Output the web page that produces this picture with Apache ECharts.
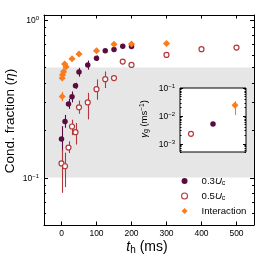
<!DOCTYPE html>
<html><head><meta charset="utf-8">
<script src="https://cdn.jsdelivr.net/npm/echarts@6/dist/echarts.min.js"></script>
<style>html,body{margin:0;padding:0;background:#fff}#c{width:260px;height:260px}</style>
</head><body><div id="c"></div>
<script>
// ---- data ----
const tPurple   = [0, 10, 20, 30, 40, 50, 75, 100, 125, 150, 175, 200];
const etaPurple = [0.176, 0.227, 0.293, 0.326, 0.382, 0.467, 0.519, 0.572, 0.637, 0.651, 0.682, 0.680];
const loPurple  = [0.145, 0.207, 0.273, 0.300, 0.366, 0.437, 0.484, 0.550, 0.620, 0.640, 0.670, 0.670];
const hiPurple  = [0.212, 0.250, 0.316, 0.352, 0.400, 0.497, 0.553, 0.595, 0.655, 0.663, 0.694, 0.690];

const tOpen   = [0, 10, 20, 30, 40, 50, 75, 100, 125, 150, 175, 200, 300, 400, 500];
const etaOpen = [0.123, 0.118, 0.155, 0.211, 0.194, 0.279, 0.300, 0.364, 0.421, 0.428, 0.545, 0.519, 0.600, 0.653, 0.668];
const loOpen  = [0.080, 0.087, 0.143, 0.186, 0.162, 0.254, 0.234, 0.312, 0.370, 0.412, 0.530, 0.505, 0.588, 0.642, 0.657];
const hiOpen  = [0.150, 0.144, 0.170, 0.233, 0.222, 0.308, 0.345, 0.420, 0.472, 0.446, 0.560, 0.533, 0.612, 0.665, 0.680];

const tInter   = [2, 2, 3, 6, 9, 13, 30, 50, 100, 150, 200, 300];
const etaInter = [0.327, 0.428, 0.449, 0.471, 0.525, 0.506, 0.567, 0.609, 0.639, 0.702, 0.705, 0.710];
const loInter  = [0.305, 0.410, 0.430, 0.452, 0.505, 0.487, 0.548, 0.590, 0.620, 0.682, 0.686, 0.692];
const hiInter  = [0.350, 0.446, 0.468, 0.490, 0.545, 0.525, 0.587, 0.628, 0.658, 0.722, 0.724, 0.729];
const tErrInter = [8, 8, 8, 8, 8, 8, 8, 8, 8, 8, 8, 8];

const insetCat  = [1, 2, 3];            // 0.5Uc, 0.3Uc, Interaction
const insetRate = [0.00226, 0.00512, 0.0241];
const insetLo   = [null, null, 0.0107];
const insetHi   = [null, null, 0.0335];

const xTicks = [0, 100, 200, 300, 400, 500];
const yTickVals = [0.1, 1, 0.05, 0.06, 0.07, 0.08, 0.09, 0.2, 0.3, 0.4, 0.5, 0.6, 0.7, 0.8, 0.9];
const yTickLabels = ['{a|10}{b|\u22121}', '{a|10}{b|0}'];
const insetTickVals = [0.001, 0.01, 0.1, 0.0005, 0.0006, 0.0007, 0.0008, 0.0009,
  0.002, 0.003, 0.004, 0.005, 0.006, 0.007, 0.008, 0.009,
  0.02, 0.03, 0.04, 0.05, 0.06, 0.07, 0.08, 0.09];
const insetTickLabels = ['{a|10}{b|\u22123}', '{a|10}{b|\u22122}', '{a|10}{b|\u22121}'];
const bandRange = [0.1, 0.5];

// ---- style ----
const FONT = '"Liberation Sans", Arial, Helvetica, sans-serif';
const C_P = '#5a0c40', C_R = '#b3383b', C_O = '#fb7c1c';

const supRich = {
  a: {fontSize: 8.5, lineHeight: 10, fontFamily: FONT, color: '#000'},
  b: {fontSize: 6, lineHeight: 6, verticalAlign: 'top', fontFamily: FONT, color: '#000'}
};

function crisp(v) { return Math.round(v) + 0.5; }

function tickRender(majorCount, labels, majorLen, labelGap) {
  return function (params, api) {
    const cs = params.coordSys;
    const y = crisp(api.coord([api.value(0), api.value(1)])[1]);
    const major = params.dataIndex < majorCount;
    const L = major ? majorLen : majorLen / 2;
    const ch = [
      {type: 'line', shape: {x1: cs.x, y1: y, x2: cs.x + L, y2: y}, style: {stroke: '#000', lineWidth: 1}},
      {type: 'line', shape: {x1: cs.x + cs.width, y1: y, x2: cs.x + cs.width - L, y2: y}, style: {stroke: '#000', lineWidth: 1}}
    ];
    if (major && labels[params.dataIndex]) {
      ch.push({type: 'text', x: cs.x - labelGap, y: y,
        style: {text: labels[params.dataIndex], rich: supRich, align: 'right', verticalAlign: 'middle', fontFamily: FONT, fontSize: 8.5, fill: '#000'}});
    }
    return {type: 'group', children: ch};
  };
}

function errRender(color, withX) {
  return function (params, api) {
    const x = api.value(0);
    const p1 = api.coord([x, api.value(1)]), p2 = api.coord([x, api.value(2)]);
    const xx = crisp(p1[0]);
    const ch = [{type: 'line', shape: {x1: xx, y1: p1[1], x2: xx, y2: p2[1]}, style: {stroke: color, lineWidth: 1.1}}];
    if (withX) {
      const xe = api.value(3), yv = api.value(4);
      const q1 = api.coord([x - xe, yv]), q2 = api.coord([x + xe, yv]);
      const yy = crisp(q1[1]);
      ch.push({type: 'line', shape: {x1: q1[0], y1: yy, x2: q2[0], y2: yy}, style: {stroke: color, lineWidth: 1.1}});
    }
    return {type: 'group', children: ch};
  };
}

const zip2 = (a, b) => a.map((v, i) => [v, b[i]]);

const option = {
  animation: false,
  backgroundColor: '#fff',
  textStyle: {fontFamily: FONT},
  grid: [
    {left: 44, top: 15, width: 210, height: 210, show: false},
    {left: 180, top: 88, width: 66, height: 64, show: true, backgroundColor: '#fff', borderColor: '#000', borderWidth: 1, z: 5}
  ],
  xAxis: [
    {gridIndex: 0, type: 'value', min: -50, max: 550, position: 'bottom', z: 10,
      axisLine: {show: true, onZero: false, lineStyle: {color: '#000', width: 1}},
      axisTick: {show: true, inside: true, length: 3.5, customValues: xTicks, lineStyle: {color: '#000', width: 1}},
      axisLabel: {show: true, customValues: xTicks, fontSize: 8.5, color: '#000', margin: 4, fontFamily: FONT},
      splitLine: {show: false}},
    {gridIndex: 0, type: 'value', min: -50, max: 550, position: 'top', z: 10,
      axisLine: {show: true, onZero: false, lineStyle: {color: '#000', width: 1}},
      axisTick: {show: true, inside: true, length: 3.5, customValues: xTicks, lineStyle: {color: '#000', width: 1}},
      axisLabel: {show: false}, splitLine: {show: false}},
    {gridIndex: 1, type: 'value', min: 0.5, max: 3.5, show: false}
  ],
  yAxis: [
    {gridIndex: 0, type: 'log', logBase: 10, min: 0.05, max: 1.076, position: 'left', z: 10,
      axisLine: {show: true, onZero: false, lineStyle: {color: '#000', width: 1}},
      axisTick: {show: false}, axisLabel: {show: false}, splitLine: {show: false}},
    {gridIndex: 0, type: 'log', logBase: 10, min: 0.05, max: 1.076, position: 'right', z: 10,
      axisLine: {show: true, onZero: false, lineStyle: {color: '#000', width: 1}},
      axisTick: {show: false}, axisLabel: {show: false}, splitLine: {show: false}},
    {gridIndex: 1, type: 'log', logBase: 10, min: 0.0005, max: 0.1, show: false}
  ],
  legend: {
    orient: 'vertical', left: 181, top: 175, itemWidth: 6, itemHeight: 6, itemGap: 3,
    padding: 0,
    textStyle: {fontFamily: FONT, fontSize: 9.6, color: '#000', lineHeight: 12,
      rich: {
        n: {fontFamily: FONT, fontSize: 9.6, lineHeight: 12, color: '#000', padding: [0, 0, 0, 9]},
        i: {fontFamily: FONT, fontSize: 9.6, lineHeight: 12, fontStyle: 'italic', color: '#000'},
        s: {fontFamily: FONT, fontSize: 7, lineHeight: 6, verticalAlign: 'bottom', color: '#000'}
      }},
    formatter: function (name) {
      if (name === '0.3Uc') return '{n|0.3}{i|U}{s|c}';
      if (name === '0.5Uc') return '{n|0.5}{i|U}{s|c}';
      return '{n|' + name + '}';
    },
    data: [
      {name: '0.3Uc', icon: 'circle', itemStyle: {color: C_P, borderWidth: 0}},
      {name: '0.5Uc', icon: 'circle', itemStyle: {color: '#fff', borderColor: C_R, borderWidth: 1.1}},
      {name: 'Interaction', icon: 'diamond', itemStyle: {color: C_O, borderWidth: 0}}
    ]
  },
  graphic: [
    {type: 'text', x: 10, y: 121, rotation: Math.PI / 2, z: 20,
      style: {text: 'Cond. fraction ({e|\u03b7})', align: 'center', verticalAlign: 'middle', fontFamily: FONT, fontSize: 13.5, fill: '#000',
        rich: {e: {fontFamily: FONT, fontSize: 13.5, fontStyle: 'italic', color: '#000'}}}},
    {type: 'text', x: 147, y: 247, z: 20,
      style: {text: '{i|t}{s|h}{n| (ms)}', align: 'center', verticalAlign: 'middle', fontFamily: FONT, fontSize: 14, fill: '#000',
        rich: {i: {fontFamily: FONT, fontSize: 14, lineHeight: 16, fontStyle: 'italic', color: '#000'},
               s: {fontFamily: FONT, fontSize: 10, lineHeight: 9, verticalAlign: 'bottom', color: '#000'},
               n: {fontFamily: FONT, fontSize: 14, lineHeight: 16, color: '#000'}}}},
    {type: 'text', x: 144, y: 119, rotation: Math.PI / 2, z: 20,
      style: {text: '{i|\u03b3}{s|g}{n| (ms}{p|\u22121}{n|)}', align: 'center', verticalAlign: 'middle', fontFamily: FONT, fontSize: 9.5, fill: '#000',
        rich: {i: {fontFamily: FONT, fontSize: 9.5, lineHeight: 11, fontStyle: 'italic', color: '#000'},
               s: {fontFamily: FONT, fontSize: 7, lineHeight: 6, verticalAlign: 'bottom', color: '#000'},
               n: {fontFamily: FONT, fontSize: 9.5, lineHeight: 11, color: '#000'},
               p: {fontFamily: FONT, fontSize: 6.5, lineHeight: 6, verticalAlign: 'top', color: '#000'}}}}
  ],
  series: [
    {type: 'custom', name: 'band', xAxisIndex: 0, yAxisIndex: 0, z: 1, silent: true,
      data: [[0, bandRange[0], bandRange[1]]], encode: {x: 0, y: [1, 2]},
      renderItem: function (params, api) {
        const cs = params.coordSys;
        const yLo = api.coord([0, api.value(1)])[1], yHi = api.coord([0, api.value(2)])[1];
        return {type: 'rect', shape: {x: cs.x, y: yHi, width: cs.width, height: yLo - yHi}, style: {fill: '#e6e6e6'}};
      }},
    {type: 'custom', name: 'yticks', xAxisIndex: 0, yAxisIndex: 0, z: 11, silent: true,
      data: yTickVals.map(v => [0, v]), encode: {x: 0, y: 1},
      renderItem: tickRender(2, yTickLabels, 4, 5)},
    {type: 'custom', name: 'errP', xAxisIndex: 0, yAxisIndex: 0, z: 3, silent: true,
      data: tPurple.map((t, i) => [t, loPurple[i], hiPurple[i]]), encode: {x: 0, y: [1, 2]},
      renderItem: errRender(C_P, false)},
    {type: 'scatter', name: '0.3Uc', xAxisIndex: 0, yAxisIndex: 0, z: 4,
      symbol: 'circle', symbolSize: 5.5, itemStyle: {color: C_P, opacity: 1},
      data: zip2(tPurple, etaPurple)},
    {type: 'custom', name: 'errR', xAxisIndex: 0, yAxisIndex: 0, z: 3, silent: true,
      data: tOpen.map((t, i) => [t, loOpen[i], hiOpen[i]]), encode: {x: 0, y: [1, 2]},
      renderItem: errRender(C_R, false)},
    {type: 'scatter', name: '0.5Uc', xAxisIndex: 0, yAxisIndex: 0, z: 4,
      symbol: 'circle', symbolSize: 5, itemStyle: {color: '#fff', borderColor: C_R, borderWidth: 1.2, opacity: 1},
      data: zip2(tOpen, etaOpen)},
    {type: 'custom', name: 'errO', xAxisIndex: 0, yAxisIndex: 0, z: 5, silent: true,
      data: tInter.map((t, i) => [t, loInter[i], hiInter[i], tErrInter[i], etaInter[i]]), encode: {x: 0, y: [1, 2]},
      renderItem: errRender(C_O, true)},
    {type: 'scatter', name: 'Interaction', xAxisIndex: 0, yAxisIndex: 0, z: 6,
      symbol: 'diamond', symbolSize: 7, itemStyle: {color: C_O, opacity: 1},
      data: zip2(tInter, etaInter)},
    // inset
    {type: 'custom', name: 'insetTicks', xAxisIndex: 2, yAxisIndex: 2, z: 7, silent: true,
      data: insetTickVals.map(v => [1, v]), encode: {x: 0, y: 1},
      renderItem: tickRender(3, insetTickLabels, 3, 5)},
    {type: 'custom', name: 'insetErr', xAxisIndex: 2, yAxisIndex: 2, z: 7, silent: true,
      data: [[insetCat[2], insetLo[2], insetHi[2]]], encode: {x: 0, y: [1, 2]},
      renderItem: errRender(C_O, false)},
    {type: 'scatter', name: 'in05', xAxisIndex: 2, yAxisIndex: 2, z: 8,
      symbol: 'circle', symbolSize: 5, itemStyle: {color: '#fff', borderColor: C_R, borderWidth: 1.2, opacity: 1},
      data: [[insetCat[0], insetRate[0]]]},
    {type: 'scatter', name: 'in03', xAxisIndex: 2, yAxisIndex: 2, z: 8,
      symbol: 'circle', symbolSize: 5.5, itemStyle: {color: C_P, opacity: 1},
      data: [[insetCat[1], insetRate[1]]]},
    {type: 'scatter', name: 'inInt', xAxisIndex: 2, yAxisIndex: 2, z: 8,
      symbol: 'diamond', symbolSize: 7, itemStyle: {color: C_O, opacity: 1},
      data: [[insetCat[2], insetRate[2]]]}
  ]
};

const chart = echarts.init(document.getElementById('c'), null, {renderer: 'canvas', width: 260, height: 260});
chart.setOption(option);
</script>
</body></html>
